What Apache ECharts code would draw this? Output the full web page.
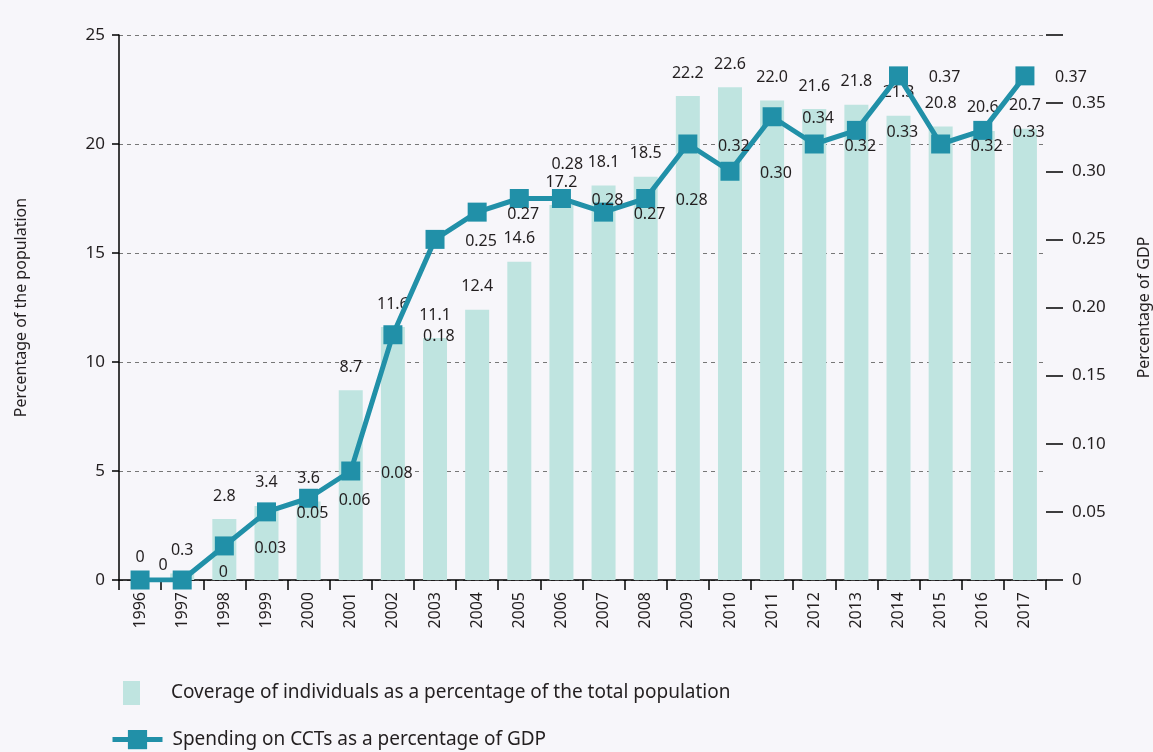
<!DOCTYPE html>
<html>
<head>
<meta charset="utf-8">
<style>
  html, body { margin: 0; padding: 0; background: #f7f6fa; }
  #main { width: 1153px; height: 752px; }
</style>
<script src="https://cdn.jsdelivr.net/npm/echarts@6.0.0/dist/echarts.min.js"></script>
</head>
<body>
<div id="main"></div>
<script>
  // years on the x axis
  var years = ['1996','1997','1998','1999','2000','2001','2002','2003','2004','2005','2006',
               '2007','2008','2009','2010','2011','2012','2013','2014','2015','2016','2017'];
  // coverage, % of total population (bars, left axis)
  var coverage = [0, 0.3, 2.8, 3.4, 3.6, 8.7, 11.6, 11.1, 12.4, 14.6, 17.2,
                  18.1, 18.5, 22.2, 22.6, 22.0, 21.6, 21.8, 21.3, 20.8, 20.6, 20.7];
  // spending on CCTs, % of GDP (line, right axis)
  var spending = [0, 0, 0.025, 0.05, 0.06, 0.08, 0.18, 0.25, 0.27, 0.28, 0.28,
                  0.27, 0.28, 0.32, 0.30, 0.34, 0.32, 0.33, 0.37, 0.32, 0.33, 0.37];
  var leftTicks = [0, 5, 10, 15, 20, 25];

  var txt = '#231f20';
  var barColor = '#bfe4e0';
  var lineColor = '#2190a8';
  var font = 'Noto Sans';

  // labels of the line sit one step to the right of their point, as in the original
  var lineLabelOffsets = { 0: [23, -15], 1: [41, -8], 9: [48, -34] };
  var spendingData = spending.map(function (v, i) {
    var d = { value: v };
    if (lineLabelOffsets[i]) d.label = { offset: lineLabelOffsets[i] };
    return d;
  });

  var myChart = echarts.init(document.getElementById('main'));
  myChart.setOption({
    backgroundColor: '#f7f6fa',
    textStyle: { fontFamily: font, color: txt },
    grid: { left: 119, right: 107, top: 35, bottom: 172, outerBoundsMode: 'none', containLabel: false },
    legend: [
      {
        data: [{ name: 'Coverage of individuals as a percentage of the total population', icon: 'rect' }],
        left: 118, top: 676,
        itemWidth: 17, itemHeight: 24,
        textStyle: { fontSize: 19, color: txt, fontFamily: font, padding: [0, 0, 0, 26] }
      },
      {
        data: ['Spending on CCTs as a percentage of GDP'],
        left: 105, top: 725,
        itemWidth: 50, itemHeight: 24,
        lineStyle: { width: 5 },
        textStyle: { fontSize: 19, color: txt, fontFamily: font, padding: [0, 0, 0, 5] }
      }
    ],
    xAxis: {
      type: 'category',
      data: years,
      axisLine: { lineStyle: { color: '#000', width: 1.5 } },
      axisTick: { show: true, length: 10, lineStyle: { color: '#000', width: 1.5 } },
      axisLabel: { rotate: 90, fontSize: 16, color: txt, margin: 12, fontFamily: font }
    },
    yAxis: [
      {
        type: 'value',
        min: leftTicks[0], max: leftTicks[leftTicks.length - 1], interval: 5,
        name: 'Percentage of the population',
        nameLocation: 'middle', nameGap: 90,
        nameTextStyle: { fontSize: 16, color: txt, fontFamily: font },
        axisLine: { show: true, lineStyle: { color: '#000', width: 1.5 } },
        axisTick: { show: true, length: 7, lineStyle: { color: '#000', width: 1.5 } },
        axisLabel: { fontSize: 17, color: txt, margin: 14, fontFamily: font },
        splitLine: { show: true, lineStyle: { color: '#777', type: [4, 4], width: 1 } }
      },
      {
        type: 'value',
        min: 0, max: 0.4, interval: 0.05,
        name: 'Percentage of GDP',
        nameLocation: 'middle', nameGap: 90, nameRotate: 90,
        nameTextStyle: { fontSize: 16, color: txt, fontFamily: font },
        axisLine: { show: false },
        axisTick: { show: true, length: 17, lineStyle: { color: '#000', width: 1.5 } },
        axisLabel: {
          fontSize: 17, color: txt, margin: 26, fontFamily: font,
          formatter: function (v) {
            if (v === 0) return '0';
            if (v > 0.39) return '';
            return v.toFixed(2);
          }
        },
        splitLine: { show: false }
      }
    ],
    series: [
      {
        name: 'Coverage of individuals as a percentage of the total population',
        type: 'bar',
        data: coverage,
        barWidth: 24,
        itemStyle: { color: barColor },
        label: {
          show: true, position: 'top', distance: 15,
          fontSize: 16, color: txt, fontFamily: font,
          formatter: function (p) { return p.value === 0 ? '0' : p.value.toFixed(1); }
        }
      },
      {
        name: 'Spending on CCTs as a percentage of GDP',
        type: 'line',
        yAxisIndex: 1,
        data: spendingData,
        symbol: 'rect',
        symbolSize: 19,
        lineStyle: { color: lineColor, width: 5 },
        itemStyle: { color: lineColor },
        z: 3,
        label: {
          show: true, position: 'inside', offset: [46, 2],
          fontSize: 16, color: txt, fontFamily: font,
          formatter: function (p) { return p.value === 0 ? '0' : (Math.round(p.value * 100) / 100).toFixed(2); }
        }
      }
    ]
  });
</script>
</body>
</html>
